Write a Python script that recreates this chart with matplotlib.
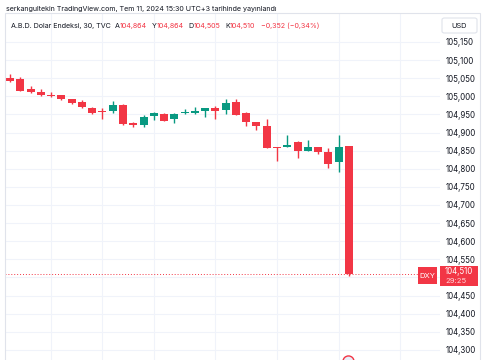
import matplotlib
matplotlib.use("Agg")
import matplotlib.pyplot as plt
from matplotlib.patches import Rectangle, FancyBboxPatch
from matplotlib.ticker import FuncFormatter, FixedLocator

plt.rcParams['font.family'] = ['Inter', 'DejaVu Sans']

# 30 min candles, DXY (TVC)
opens = [105.050, 105.047, 105.020, 105.011, 105.004, 105.004, 104.992, 104.984, 104.968,
         104.957, 104.959, 104.976, 104.925, 104.921, 104.946, 104.951, 104.937, 104.953,
         104.953, 104.959, 104.969, 104.962, 104.985, 104.953, 104.929, 104.918, 104.859,
         104.859, 104.873, 104.850, 104.860, 104.847, 104.818, 104.864]
highs = [105.061, 105.054, 105.028, 105.020, 105.011, 105.004, 104.993, 104.990, 104.971,
         104.969, 104.987, 104.979, 104.930, 104.948, 104.956, 104.954, 104.955, 104.965,
         104.970, 104.967, 104.973, 104.992, 104.993, 104.956, 104.929, 104.937, 104.859,
         104.893, 104.877, 104.879, 104.860, 104.856, 104.893, 104.864]
lows = [105.039, 105.014, 105.008, 105.002, 104.999, 104.991, 104.979, 104.969, 104.950,
        104.937, 104.955, 104.921, 104.914, 104.916, 104.935, 104.932, 104.927, 104.951,
        104.951, 104.944, 104.937, 104.951, 104.948, 104.918, 104.907, 104.858, 104.822,
        104.859, 104.830, 104.850, 104.841, 104.801, 104.792, 104.505]
closes = [105.042, 105.015, 105.011, 105.004, 105.002, 104.993, 104.981, 104.971, 104.955,
          104.957, 104.976, 104.924, 104.921, 104.942, 104.953, 104.933, 104.951, 104.957,
          104.960, 104.967, 104.959, 104.982, 104.948, 104.929, 104.918, 104.858, 104.858,
          104.865, 104.849, 104.859, 104.847, 104.813, 104.859, 104.510]

price_ticks = [104.30, 104.35, 104.40, 104.45, 104.50, 104.55, 104.60, 104.65, 104.70,
               104.75, 104.80, 104.85, 104.90, 104.95, 105.00, 105.05, 105.10, 105.15]
time_grid = [4, 9, 14, 20, 26, 32, 38]
last_price = 104.510

header = "serkangultekin TradingView.com, Tem 11, 2024 15:30 UTC+3 tarihinde yayınlandı"
# (text, colour, left x in px)
legend_parts = [("A.B.D. Dolar Endeksi, 30, TVC", "#131722", 11),
                ("A", "#131722", 115), ("104,864", "#F23645", 120),
                ("Y", "#131722", 152), ("104,864", "#F23645", 157),
                ("D", "#131722", 188), ("104,505", "#F23645", 194),
                ("K", "#131722", 225), ("104,510", "#F23645", 230),
                ("\u22120,352 (\u22120,34%)", "#F23645", 261)]

RED = "#F23645"
GREEN = "#089981"
W, H = 485, 360

fig = plt.figure(figsize=(4.85, 3.6), dpi=100)
ax = fig.add_axes([5 / W, 0, 435 / W, 347 / H])
ax.set_xlim(-0.49, 41.87)
ax.set_ylim(104.272, 105.230)

for i, (o, h, l, c) in enumerate(zip(opens, highs, lows, closes)):
    col = GREEN if c > o else RED
    ax.vlines(i, l, h, color=col, linewidth=1, zorder=2)
    body = max(abs(c - o), 0.0015)
    ax.bar(i, body, bottom=min(o, c), width=0.78, color=col, zorder=3, linewidth=0)

ax.axhline(last_price, xmax=(418 - 5) / 435, color=RED, linewidth=0.7,
           linestyle=(0, (1, 2)), zorder=1)

ax.yaxis.set_major_locator(FixedLocator(price_ticks))
ax.xaxis.set_major_locator(FixedLocator(time_grid))
ax.yaxis.tick_right()
ax.yaxis.set_major_formatter(FuncFormatter(
    lambda v, pos: "" if abs(v - 104.50) < 1e-6 else f"{v:.3f}".replace(".", ",")))
ax.tick_params(axis='y', length=0, labelsize=5.7, labelcolor="#131722", pad=3.8)
ax.tick_params(axis='x', length=0, labelbottom=False)
ax.grid(True, color="#F0F3FA", linewidth=0.8)
ax.set_axisbelow(True)
for s in ax.spines.values():
    s.set_visible(False)

# outer frame
fig.patches.append(Rectangle((5 / W, -0.01), 475 / W, 347 / H + 0.01,
                             transform=fig.transFigure, fill=False,
                             edgecolor="#E0E3EB", linewidth=0.8))

fig.text(6 / W, 1 - 9 / H, header, fontsize=5.15, color="#131722", va="center")

for txt, col, xp in legend_parts:
    fig.text(xp / W, 1 - 26 / H, txt, fontsize=5.15, color=col, va="center")

# USD box
fig.patches.append(FancyBboxPatch((442 / W, 1 - 33 / H), 35 / W, 15 / H,
                                  boxstyle="round,pad=0,rounding_size=0.005",
                                  transform=fig.transFigure, facecolor="white",
                                  edgecolor="#E0E3EB", linewidth=0.8))
fig.text(459.5 / W, 1 - 25.5 / H, "USD", fontsize=5.3, color="#131722",
         ha="center", va="center")

# last price labels
fig.patches.append(Rectangle((418 / W, 1 - 284 / H), 19 / W, 17 / H,
                             transform=fig.transFigure, facecolor=RED, edgecolor="none"))
fig.text(427.5 / W, 1 - 275.5 / H, "DXY", fontsize=5.5, color="white",
         ha="center", va="center")
fig.patches.append(Rectangle((440 / W, 1 - 286 / H), 38 / W, 20 / H,
                             transform=fig.transFigure, facecolor=RED, edgecolor="none"))
fig.text(445 / W, 1 - 271.5 / H, "104,510", fontsize=5.7, color="white", va="center")
fig.text(445 / W, 1 - 281 / H, "29:25", fontsize=5.5, color="#FFD6DA", va="center")

# event marker at bottom
ax.plot([32.9], [104.268], marker="o", markersize=8, markerfacecolor="#E8EEF9",
        markeredgecolor=RED, markeredgewidth=1.0, clip_on=True, zorder=4)

fig.savefig("out.png", dpi=100)
